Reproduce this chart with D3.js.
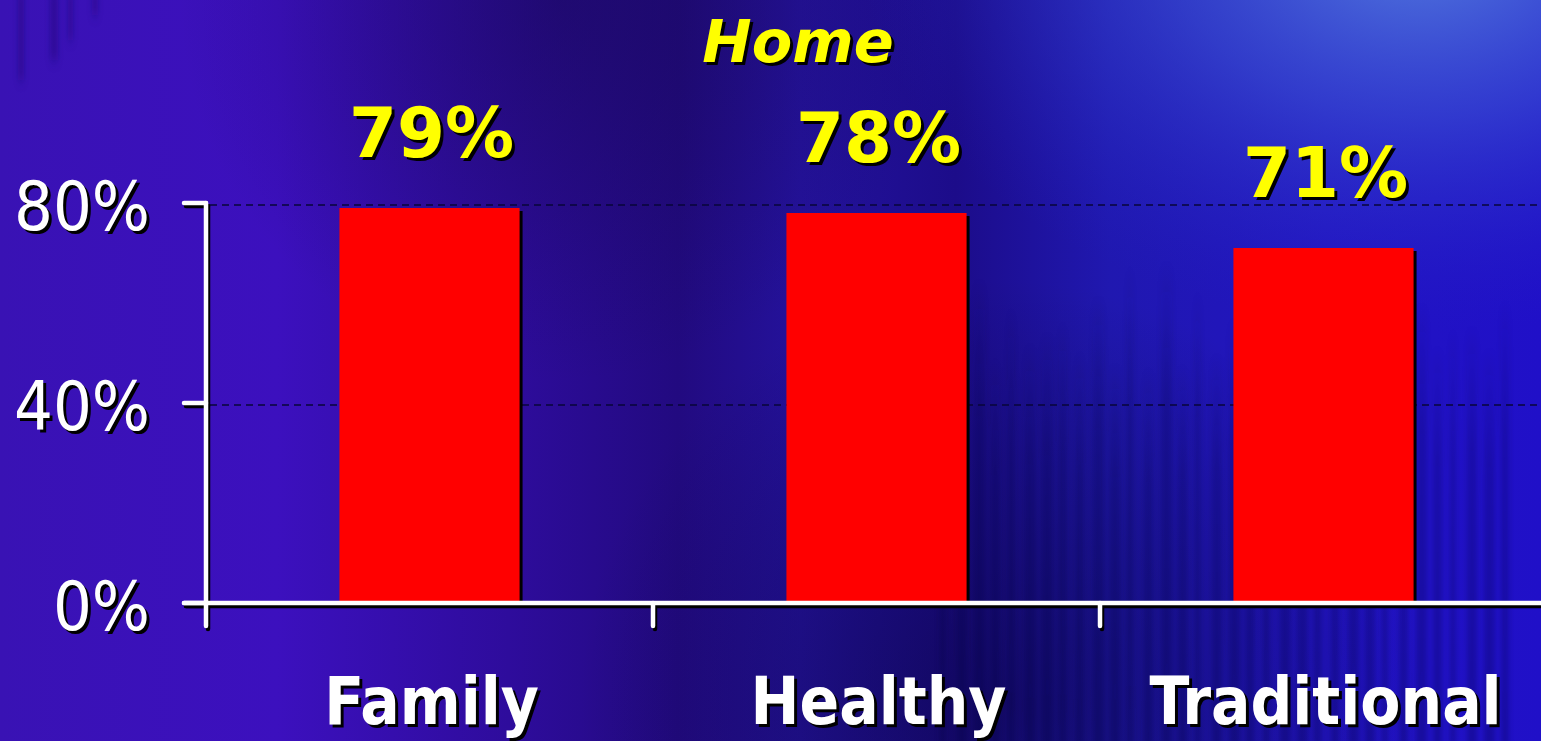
<!DOCTYPE html>
<html>
<head>
<meta charset="utf-8">
<script src="https://cdn.jsdelivr.net/npm/d3@7/dist/d3.min.js"></script>
<style>
  html, body { margin: 0; padding: 0; background: #2a10a0; overflow: hidden; }
  svg { display: block; }
</style>
</head>
<body>
<svg id="chart" width="1541" height="741"></svg>
<script>
// Share of respondents choosing each theme at home
const categories = ["Family", "Healthy", "Traditional"];
const values = [79, 78, 71];
const yTicks = [0, 40, 80];
const gridTicks = [40, 80];
const title = "Home";

const W = 1541, H = 741;
const svg = d3.select("#chart");
const defs = svg.append("defs");

// ---- background: blue/purple slide wash with vertical streaks ----
const hg = defs.append("linearGradient").attr("id", "bgH")
  .attr("x1", 0).attr("x2", 1).attr("y1", 0).attr("y2", 0);
[[0, "#3912b4"], [0.18, "#3c10be"], [0.33, "#2e0c9c"], [0.44, "#220a80"],
 [0.52, "#24129c"], [0.62, "#1c0c8a"], [0.72, "#2018b0"], [0.86, "#2214c2"], [1, "#2010c8"]]
  .forEach(([o, c]) => hg.append("stop").attr("offset", o).attr("stop-color", c));

const glow = defs.append("radialGradient").attr("id", "glow")
  .attr("cx", 1420).attr("cy", -60).attr("r", 560)
  .attr("gradientUnits", "userSpaceOnUse")
  .attr("gradientTransform", "translate(1420,-60) scale(1,0.7) translate(-1420,60)");
glow.append("stop").attr("offset", 0).attr("stop-color", "#5a88e2").attr("stop-opacity", 0.9);
glow.append("stop").attr("offset", 0.45).attr("stop-color", "#3e5ad6").attr("stop-opacity", 0.55);
glow.append("stop").attr("offset", 1).attr("stop-color", "#2020c0").attr("stop-opacity", 0);

const dark = defs.append("radialGradient").attr("id", "dark")
  .attr("cx", 1000).attr("cy", 700).attr("r", 420).attr("gradientUnits", "userSpaceOnUse");
dark.append("stop").attr("offset", 0).attr("stop-color", "#0a0440").attr("stop-opacity", 0.55);
dark.append("stop").attr("offset", 1).attr("stop-color", "#0a0440").attr("stop-opacity", 0);

const topDark = defs.append("radialGradient").attr("id", "topDark")
  .attr("cx", 560).attr("cy", 0).attr("r", 380).attr("gradientUnits", "userSpaceOnUse");
topDark.append("stop").attr("offset", 0).attr("stop-color", "#150850").attr("stop-opacity", 0.5);
topDark.append("stop").attr("offset", 1).attr("stop-color", "#150850").attr("stop-opacity", 0);

const bg = svg.append("g");
bg.append("rect").attr("width", W).attr("height", H).attr("fill", "url(#bgH)");
bg.append("rect").attr("width", W).attr("height", H).attr("fill", "url(#topDark)");
bg.append("rect").attr("width", W).attr("height", H).attr("fill", "url(#dark)");
bg.append("rect").attr("width", W).attr("height", H).attr("fill", "url(#glow)");

// soft vertical streaks
defs.append("filter").attr("id", "soft")
  .attr("x", "-20%").attr("y", "-20%").attr("width", "140%").attr("height", "140%")
  .append("feGaussianBlur").attr("stdDeviation", "2.5 6");
const streakFade = defs.append("linearGradient").attr("id", "streak")
  .attr("x1", 0).attr("x2", 0).attr("y1", 0).attr("y2", 1);
streakFade.append("stop").attr("offset", 0).attr("stop-color", "#0a0440").attr("stop-opacity", 0);
streakFade.append("stop").attr("offset", 0.3).attr("stop-color", "#0a0440").attr("stop-opacity", 0.3);
streakFade.append("stop").attr("offset", 1).attr("stop-color", "#0a0440").attr("stop-opacity", 0.4);
const streaks = d3.range(0, 34).map(i => {
  const x = 940 + i * 17;
  const top = 250 + 120 * Math.abs(Math.sin(i * 1.7));
  const w = 5 + 6 * Math.abs(Math.sin(i * 2.3));
  return { x, top, w };
}).filter(d => d.x < 1541);
const sg = bg.append("g").attr("filter", "url(#soft)");
sg.selectAll("rect.streak").data(streaks).join("rect").attr("class", "streak")
  .attr("x", d => d.x).attr("y", d => d.top).attr("width", d => d.w)
  .attr("height", d => H + 20 - d.top).attr("fill", "url(#streak)").attr("opacity", 0.7);
const topStreaks = [[18, 6, 90], [50, 8, 70], [68, 5, 50], [92, 6, 25]];
sg.selectAll("rect.tstreak").data(topStreaks).join("rect").attr("class", "tstreak")
  .attr("x", d => d[0]).attr("y", -10).attr("width", d => d[1]).attr("height", d => d[2])
  .attr("fill", "#1a0868").attr("opacity", 0.35);

// ---- scales ----
const x = d3.scaleBand().domain(categories).range([206, 1547])
  .paddingInner(0.597).paddingOuter(0.2985);
const y = d3.scaleLinear().domain([0, 80]).range([603, 203]);

const SANS = "'DejaVu Sans', Verdana, sans-serif";
const COND = "'DejaVu Sans Condensed', 'DejaVu Sans', sans-serif";

// ---- gridlines ----
const grid = svg.append("g");
grid.selectAll("line").data(gridTicks).join("line")
  .attr("x1", 210).attr("x2", W)
  .attr("y1", d => y(d) + 2).attr("y2", d => y(d) + 2)
  .attr("stroke", "#08063a").attr("stroke-width", 1.6)
  .attr("stroke-dasharray", "7,5");

// ---- bars with dark offset shadow ----
const bars = svg.append("g");
bars.selectAll("rect.shadow").data(values).join("rect").attr("class", "shadow")
  .attr("x", (d, i) => x(categories[i]) + 3)
  .attr("y", d => y(d) + 3)
  .attr("width", x.bandwidth())
  .attr("height", d => y(0) - y(d) - 3)
  .attr("fill", "#000");
bars.selectAll("rect.bar").data(values).join("rect").attr("class", "bar")
  .attr("x", (d, i) => x(categories[i]))
  .attr("y", d => y(d))
  .attr("width", x.bandwidth())
  .attr("height", d => y(0) - y(d))
  .attr("fill", "#ff0000");

// ---- axes (white strokes with black drop shadow) ----
function axisLines(g, dx, dy, color) {
  const x0 = x.range()[0];
  const seg = [];
  // vertical axis, running down to the first category tick
  seg.push([x0, y(80), x0, 626]);
  // horizontal axis
  seg.push([184, y(0), W + 10, y(0)]);
  // value ticks
  yTicks.forEach(t => seg.push([184, y(t), x0, y(t)]));
  // category boundary ticks
  categories.forEach((c, i) => {
    const bx = x0 + x.step() * (i + 1);
    seg.push([bx, y(0), bx, 626]);
  });
  g.selectAll("line").data(seg).join("line")
    .attr("x1", d => d[0] + dx).attr("y1", d => d[1] + dy)
    .attr("x2", d => d[2] + dx).attr("y2", d => d[3] + dy)
    .attr("stroke", color).attr("stroke-width", 4.5)
    .attr("stroke-linecap", "round");
}
axisLines(svg.append("g"), 2, 3, "#000");
axisLines(svg.append("g"), 0, 0, "#fff");

// ---- text helper: text drawn twice, black offset copy first ----
function shadowText(g, data, opts) {
  [["#000", opts.sh], [opts.fill, 0]].forEach(([fill, off]) => {
    g.append("g").selectAll("text").data(data).join("text")
      .attr("x", (d, i) => opts.x(d, i) + off)
      .attr("y", (d, i) => opts.y(d, i) + off)
      .attr("text-anchor", opts.anchor)
      .attr("font-family", opts.family)
      .attr("font-size", opts.size)
      .attr("font-weight", opts.weight)
      .attr("font-style", opts.style || "normal")
      .attr("fill", fill)
      .text(opts.text);
  });
}

// value-axis labels
shadowText(svg.append("g"), yTicks, {
  x: () => 150, y: d => y(d) + 27, anchor: "end",
  family: COND, size: 68, weight: "normal", fill: "#fff", sh: 3,
  text: d => d + "%"
});

// bar value labels
shadowText(svg.append("g"), values, {
  x: (d, i) => x(categories[i]) + x.bandwidth() / 2 + 2,
  y: d => y(d) - 51, anchor: "middle",
  family: SANS, size: 69, weight: "bold", fill: "#ffff00", sh: 3,
  text: d => d + "%"
});

// category labels
shadowText(svg.append("g"), categories, {
  x: d => x(d) + x.bandwidth() / 2 + 2,
  y: () => 724, anchor: "middle",
  family: COND, size: 65, weight: "bold", fill: "#fff", sh: 3,
  text: d => d
});

// title
shadowText(svg.append("g"), [title], {
  x: () => 798, y: () => 62, anchor: "middle",
  family: SANS, size: 59, weight: "bold", style: "italic", fill: "#ffff00", sh: 3,
  text: d => d
});
</script>
</body>
</html>
